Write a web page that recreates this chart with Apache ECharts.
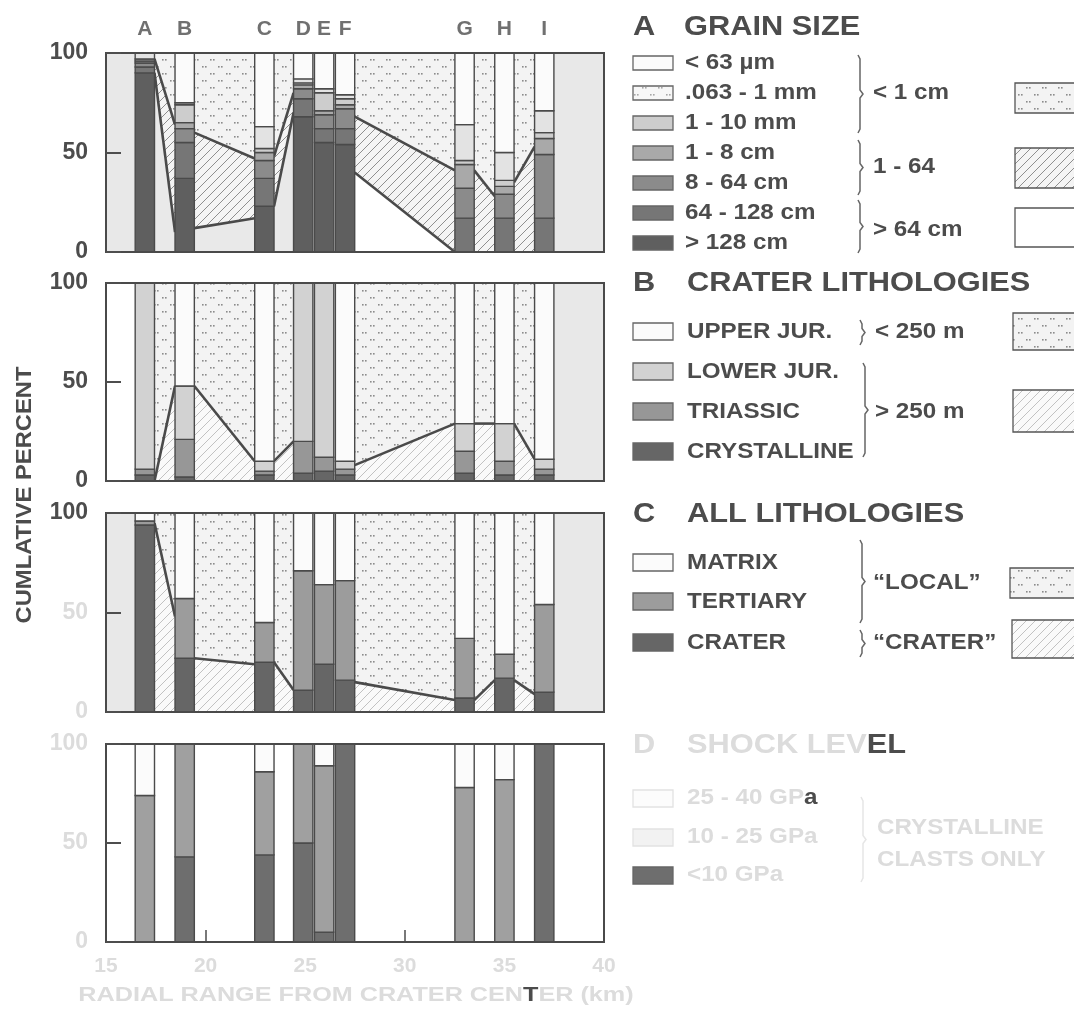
<!DOCTYPE html>
<html><head><meta charset="utf-8">
<script src="https://cdn.jsdelivr.net/npm/echarts@6/dist/echarts.min.js"></script>
<style>html,body{margin:0;padding:0;background:#fff}#c{width:1074px;height:1013px}</style>
</head><body><div id="c"></div>
<script>
// ---------- DATA ----------
const siteNames = ['A','B','C','D','E','F','G','H','I'];
const siteKm    = [16.95, 18.95, 22.95, 24.9, 25.95, 27.0, 33.0, 35.0, 37.0];
const yTicks = [0, 50, 100];

// Panel A: grain size (percent per class, bottom -> top)
const grainGt128  = [90, 37, 23, 68, 55, 54, 0, 0, 0];
const grain64_128 = [3, 18, 14, 9, 7, 8, 17, 17, 17];
const grain8_64   = [2, 7, 9, 5, 7, 10, 15, 12, 32];
const grain1_8    = [1, 3, 4, 2, 2, 2, 12, 4, 8];
const grain1_10mm = [1, 9, 2, 1, 9, 3, 2, 3, 3];
const grain063_1  = [3, 1, 11, 2, 2, 2, 18, 14, 11];
const grainLt63   = [0, 25, 37, 13, 18, 21, 36, 50, 29];
const grainLabels = ['> 128 cm','64 - 128 cm','8 - 64 cm','1 - 8 cm','1 - 10 mm','.063 - 1 mm','< 63 µm'];
// interpolated zones between sections (left value, right value)
const grainGapFrom   = [0, 1, 2, 5, 6, 7];
const grainGapUpperL = [97, 60, 48, 68, 41, 35];
const grainGapUpperR = [64, 47, 80, 41, 28, 53];
const grainGapLowerL = [90, 12, 23, 40, 0, 0];
const grainGapLowerR = [10, 17, 70, 0, 0, 0];

// Panel B: crater lithologies
const crystalline = [3, 2, 3, 4, 5, 3, 4, 3, 3];
const triassic    = [3, 19, 2, 16, 7, 3, 11, 7, 3];
const lowerJur    = [94, 27, 5, 80, 88, 4, 14, 19, 5];
const upperJur    = [0, 52, 90, 0, 0, 90, 71, 71, 89];
const craterLabels = ['CRYSTALLINE','TRIASSIC','LOWER JUR.','UPPER JUR.'];
const craterGapFrom = [0, 1, 2, 5, 6, 7];
const craterGapL    = [0, 48, 10, 8, 29, 29];
const craterGapR    = [48, 10, 20, 29, 29, 11];

// Panel C: all lithologies
const allCrater   = [94, 27, 25, 11, 24, 16, 7, 17, 10];
const allTertiary = [2, 30, 20, 60, 40, 50, 30, 12, 44];
const allMatrix   = [4, 43, 55, 29, 36, 34, 63, 71, 46];
const allLabels = ['CRATER','TERTIARY','MATRIX'];
const allGapFrom = [0, 1, 2, 5, 6, 7];
const allGapL    = [95, 27, 25, 15, 6, 16];
const allGapR    = [48, 24, 11, 6, 16, 9];

// Panel D: shock level (crystalline clasts only)
const shockLt10  = [0, 43, 44, 50, 5, 100, 0, 0, 100];
const shock10_25 = [74, 57, 42, 50, 84, 0, 78, 82, 0];
const shock25_40 = [26, 0, 14, 0, 11, 0, 22, 18, 0];
const shockLabels = ['<10 GPa','10 - 25 GPa','25 - 40 GPa'];

// ---------- STYLE ----------
const FONT = '"Liberation Sans", Arial, Helvetica, sans-serif';
const DARK = '#4c4c4c';
const FADE = '#dcdcdc';
const BAR_W = 0.97;
const grainColors = ['#5f5f5f','#767676','#8b8b8b','#a9a9a9','#cdcdcd','#e3e3e3','#fbfbfb'];
const craterColors = ['#666666','#979797','#d2d2d2','#fbfbfb'];
const allColors = ['#666666','#9c9c9c','#fbfbfb'];
const shockColors = ['#6e6e6e','#a0a0a0','#fbfbfb'];

function makeDots(bg, dot){
  const c=document.createElement('canvas'); c.width=16; c.height=14;
  const g=c.getContext('2d'); g.fillStyle=bg; g.fillRect(0,0,16,14);
  g.fillStyle=dot;
  [[2,3],[5,3],[10,10],[13,10]].forEach(p=>g.fillRect(p[0],p[1],1.6,1.6));
  return {image:c, repeat:'repeat'};
}
function makeHatch(bg, line){
  const c=document.createElement('canvas'); c.width=9; c.height=9;
  const g=c.getContext('2d'); g.fillStyle=bg; g.fillRect(0,0,9,9);
  g.strokeStyle=line; g.lineWidth=1;
  g.beginPath(); g.moveTo(-1,10); g.lineTo(10,-1);
  g.moveTo(-1,1); g.lineTo(1,-1); g.moveTo(8,10); g.lineTo(10,8); g.stroke();
  return {image:c, repeat:'repeat'};
}
const dotPat = makeDots('#f3f3f3','#8c8c8c');
const dotPatLight = makeDots('#f7f7f7','#a8a8a8');
const hatchPat = makeHatch('#f4f4f4','#8e8e8e');
const hatchLight = makeHatch('#fafafa','#c2c2c2');

const grids = [
  {left:106, top:53, width:498, height:199},
  {left:106, top:283, width:498, height:198},
  {left:106, top:513, width:498, height:199},
  {left:106, top:744, width:498, height:198}
];
const marginFills = [['#e8e8e8','#e8e8e8'],['#ffffff','#e8e8e8'],['#e8e8e8','#e8e8e8'],['#ffffff','#ffffff']];
const grainGapBase = ['#e9e9e9','#e9e9e9','#e9e9e9','#ffffff','#ffffff','#ffffff'];
const yLabelColors = [[DARK,DARK,DARK],[DARK,DARK,DARK],[FADE,FADE,DARK],[FADE,FADE,FADE]];

// ---------- SERIES BUILDERS ----------
function barSeries(gi, classArrays, colors){
  const data=[];
  siteKm.forEach((x,i)=>{
    let base=0;
    classArrays.forEach((arr,k)=>{ const v=arr[i]; if(v>0) data.push([x,base,base+v,k]); base+=v; });
  });
  return {type:'custom', xAxisIndex:gi, yAxisIndex:gi, z:3, silent:true, data,
    encode:{x:0,y:[1,2]},
    renderItem(params, api){
      const x=api.value(0), y0=api.value(1), y1=api.value(2), k=api.value(3);
      const p0=api.coord([x-BAR_W/2,y1]), p1=api.coord([x+BAR_W/2,y0]);
      return {type:'rect', shape:{x:p0[0],y:p0[1],width:p1[0]-p0[0],height:p1[1]-p0[1]},
        style:{fill:colors[k], stroke:'#4a4a4a', lineWidth:1.4}};
    }};
}
function marginSeries(gi){
  const fills = marginFills[gi];
  const data=[[siteKm[0]-BAR_W/2, 0],[siteKm[siteKm.length-1]+BAR_W/2, 1]];
  return {type:'custom', xAxisIndex:gi, yAxisIndex:gi, z:1, silent:true, data,
    renderItem(params, api){
      const cs=params.coordSys; const edge=api.coord([api.value(0),0])[0]; const side=api.value(1);
      const x0 = side===0 ? cs.x : edge, x1 = side===0 ? edge : cs.x+cs.width;
      return {type:'rect', shape:{x:x0,y:cs.y,width:x1-x0,height:cs.height}, style:{fill:fills[side]}};
    }};
}
function gapSeries(gi, from, upL, upR, loL, loR, bases, dots, hatch){
  const data = from.map((s,j)=>[siteKm[s]+BAR_W/2, siteKm[s+1]-BAR_W/2, upL[j], upR[j], loL?loL[j]:0, loR?loR[j]:0, j]);
  return {type:'custom', xAxisIndex:gi, yAxisIndex:gi, z:2, silent:true, data,
    renderItem(params, api){
      const xl=api.value(0), xr=api.value(1), ul=api.value(2), ur=api.value(3), ll=api.value(4), lr=api.value(5), j=api.value(6);
      const c=(x,y)=>api.coord([x,y]);
      const ch=[
        {type:'polygon', shape:{points:[c(xl,100),c(xr,100),c(xr,ur),c(xl,ul)]}, style:{fill:dots}},
        {type:'polygon', shape:{points:[c(xl,ul),c(xr,ur),c(xr,lr),c(xl,ll)]}, style:{fill:hatch}},
        {type:'polygon', shape:{points:[c(xl,ll),c(xr,lr),c(xr,0),c(xl,0)]}, style:{fill:bases?bases[j]:'#ffffff'}},
        {type:'polyline', shape:{points:[c(xl,ul),c(xr,ur)]}, style:{stroke:'#4a4a4a', lineWidth:2.6, fill:null}}
      ];
      if(ll>0||lr>0) ch.push({type:'polyline', shape:{points:[c(xl,ll),c(xr,lr)]}, style:{stroke:'#4a4a4a', lineWidth:2.6, fill:null}});
      return {type:'group', children:ch};
    }};
}

// ---------- AXES ----------
const xAxes = grids.map((g,i)=>({gridIndex:i, type:'value', min:15, max:40, interval:5,
  axisLine:{show:false}, splitLine:{show:false},
  axisTick:{show:i===3, inside:true, length:12, lineStyle:{color:'#4e4e4e', width:1.5}},
  axisLabel:{show:i===3, color:FADE, fontSize:21, fontWeight:'bold', fontFamily:FONT, margin:14}}));
const yAxes = grids.map((g,i)=>({gridIndex:i, type:'value', min:0, max:100, interval:50, z:10,
  axisLine:{show:false}, splitLine:{show:false},
  axisTick:{show:true, inside:true, length:15, lineStyle:{color:'#4e4e4e', width:2}},
  axisLabel:{show:true, color:(v,idx)=>{const c=yLabelColors[i][yTicks.indexOf(Number(v))]; return c||DARK;},
    fontSize:23, fontWeight:'bold', fontFamily:FONT, margin:18}}));

// ---------- LEGEND GRAPHICS ----------
const G=[];
function txt(x,y,text,size,color,o){ o=o||{};
  G.push({type:'text', x, y, rotation:o.rot||0, scaleX:o.sx||1.1, silent:true, z:20,
    style:{text, font:`bold ${size}px ${FONT}`, fill:color, align:o.align||'left', verticalAlign:'middle',
      textAlign:o.align||'left', textVerticalAlign:'middle', rich:o.rich}});
}
function rich(size){ const f=`bold ${size}px ${FONT}`; return {f:{fill:FADE,font:f}, d:{fill:DARK,font:f}}; }
function box(x,y,w,h,fill,stroke){ G.push({type:'rect', silent:true, z:20, shape:{x,y,width:w,height:h}, style:{fill, stroke:stroke||'#555', lineWidth:1.3}}); }
function brace(x,y1,y2,color){ const m=(y1+y2)/2;
  G.push({type:'polyline', silent:true, z:20, shape:{points:[[x-2,y1],[x,y1+4],[x,m-4],[x+3,m],[x,m+4],[x,y2-4],[x-2,y2]]}, style:{stroke:color||'#666', lineWidth:1.5, fill:null}}); }

// Section A
txt(633,27,'A',28,DARK); txt(684,27,'GRAIN SIZE',28,DARK);
for(let i=0;i<7;i++){ const k=6-i, y=63+30*i;
  box(633,y-7,40,14, k===5?dotPatLight:grainColors[k], '#666');
  txt(685,y,grainLabels[k],22,DARK); }
brace(860,55,133); brace(860,140,195); brace(860,200,253);
txt(873,93,'< 1 cm',22,DARK); txt(873,167,'1 - 64',22,DARK); txt(873,230,'> 64 cm',22,DARK);
box(1015,83,70,30,dotPat); box(1015,148,70,40,hatchPat); box(1015,208,70,39,'#ffffff');

// Section B
txt(633,283,'B',28,DARK); txt(687,283,'CRATER LITHOLOGIES',28,DARK);
for(let i=0;i<4;i++){ const k=3-i, y=332+40*i;
  box(633,y-9,40,17, craterColors[k], '#666'); txt(687,y,craterLabels[k],22,DARK); }
brace(862,320,345); brace(865,363,457);
txt(875,332,'< 250 m',22,DARK); txt(875,412,'> 250 m',22,DARK);
box(1013,313,70,37,dotPat); box(1013,390,70,42,hatchLight);

// Section C
txt(633,514,'C',28,DARK); txt(687,514,'ALL LITHOLOGIES',28,DARK);
[563,602,643].forEach((y,i)=>{ const k=2-i;
  box(633,y-9,40,17, allColors[k], '#666'); txt(687,y,allLabels[k],22,DARK); });
brace(862,540,623); brace(862,630,657);
txt(873,583,'“LOCAL”',22,DARK); txt(873,643,'“CRATER”',22,DARK);
box(1010,568,70,30,dotPat); box(1012,620,70,38,hatchLight);

// Section D (mostly faded in the print)
txt(633,745,'D',28,FADE);
txt(687,745,'{f|SHOCK LEV}{d|EL}',28,DARK,{rich:rich(28)});
box(633,790,40,17,'#fcfcfc','#e2e2e2'); txt(687,798,'{f|25 - 40 GP}{d|a}',22,DARK,{rich:rich(22)});
box(633,829,40,17,'#f2f2f2','#e2e2e2'); txt(687,837,shockLabels[1],22,FADE);
box(633,867,40,17,shockColors[0],'#666'); txt(687,875,shockLabels[0],22,FADE);
brace(863,797,882,'#e6e6e6');
txt(877,828,'CRYSTALLINE',22,FADE); txt(877,860,'CLASTS ONLY',22,FADE);

// axis titles
txt(25,495,'CUMLATIVE PERCENT',22,DARK,{rot:Math.PI/2, align:'center', sx:1.08});
txt(356,995,'{f|RADIAL RANGE FROM CRATER CEN}{d|T}{f|ER (km)}',21,DARK,{align:'center', sx:1.2, rich:rich(21)});

// ---------- OPTION ----------
const series = [
  marginSeries(0), marginSeries(1), marginSeries(2), marginSeries(3),
  gapSeries(0, grainGapFrom, grainGapUpperL, grainGapUpperR, grainGapLowerL, grainGapLowerR, grainGapBase, dotPat, hatchPat),
  gapSeries(1, craterGapFrom, craterGapL, craterGapR, null, null, null, dotPat, hatchLight),
  gapSeries(2, allGapFrom, allGapL, allGapR, null, null, null, dotPat, hatchLight),
  barSeries(0, [grainGt128, grain64_128, grain8_64, grain1_8, grain1_10mm, grain063_1, grainLt63], grainColors),
  barSeries(1, [crystalline, triassic, lowerJur, upperJur], craterColors),
  barSeries(2, [allCrater, allTertiary, allMatrix], allColors),
  barSeries(3, [shockLt10, shock10_25, shock25_40], shockColors),
  {type:'scatter', xAxisIndex:0, yAxisIndex:0, z:5, silent:true, symbolSize:0,
   data: siteKm.map((x,i)=>[x,100,siteNames[i]]),
   label:{show:true, position:'top', distance:13, formatter:p=>p.value[2], color:DARK, fontSize:21, fontWeight:'bold', fontFamily:FONT}}
];

const chart = echarts.init(document.getElementById('c'), null, {renderer:'canvas'});
chart.setOption({
  animation:false, backgroundColor:'#ffffff',
  grid: grids.map(g=>Object.assign({show:true, z:8, borderColor:'#4a4a4a', borderWidth:2, backgroundColor:'transparent', containLabel:false}, g)),
  xAxis:xAxes, yAxis:yAxes, series, graphic:G
});
</script></body></html>
